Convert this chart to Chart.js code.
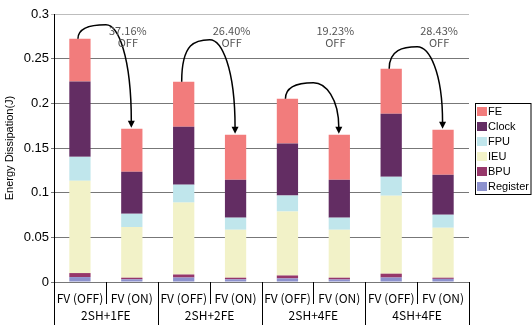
<!DOCTYPE html>
<html><head><meta charset="utf-8">
<script src="https://cdn.jsdelivr.net/npm/chart.js@4/dist/chart.umd.min.js"></script>
<style>html,body{margin:0;padding:0;background:#fff}#wrap{width:532px;height:325px;position:relative}</style>
</head><body><div id="wrap"><canvas id="c"></canvas></div>
<script>
const categories = ['FV (OFF)','FV (ON)','FV (OFF)','FV (ON)','FV (OFF)','FV (ON)','FV (OFF)','FV (ON)'];
const groups = ['2SH+1FE','2SH+2FE','2SH+4FE','4SH+4FE'];
const register = [0.0055, 0.0030, 0.0050, 0.0030, 0.0040, 0.0028, 0.0050, 0.0035];
const bpu      = [0.0045, 0.0018, 0.0034, 0.0018, 0.0033, 0.0020, 0.0043, 0.0013];
const ieu      = [0.1033, 0.0567, 0.0805, 0.0537, 0.0716, 0.0537, 0.0873, 0.0559];
const fpu      = [0.0268, 0.0149, 0.0201, 0.0135, 0.0179, 0.0135, 0.0212, 0.0146];
const clock    = [0.0843, 0.0470, 0.0649, 0.0424, 0.0581, 0.0424, 0.0705, 0.0447];
const fe       = [0.0478, 0.0481, 0.0503, 0.0504, 0.0503, 0.0504, 0.0503, 0.0504];
const savings  = ['37.16%','26.40%','19.23%','28.43%'];
const yTicks   = [0, 0.05, 0.1, 0.15, 0.2, 0.25, 0.3];

const arrowRise = [14, 42, 16, 22];

const decor = {
  id: 'decor',
  afterDraw(chart) {
    const ctx = chart.ctx, xs = chart.scales.x, ca = chart.chartArea;
    ctx.save();
    // separators below axis
    const n = categories.length;
    ctx.strokeStyle = '#000'; ctx.lineWidth = 1;
    for (let i = 0; i <= n; i++) {
      let px;
      if (i === 0) px = xs.left; else if (i === n) px = xs.right;
      else px = (xs.getPixelForValue(i - 1) + xs.getPixelForValue(i)) / 2;
      px = Math.round(px) + 0.5;
      const yEnd = (i % 2 === 0) ? chart.height : ca.bottom + 22;
      ctx.beginPath(); ctx.moveTo(px, ca.bottom); ctx.lineTo(px, yEnd); ctx.stroke();
    }
    // arrows and labels
    const meta = chart.getDatasetMeta(chart.data.datasets.length - 1);
    ctx.lineWidth = 1.5; ctx.strokeStyle = '#000'; ctx.fillStyle = '#000';
    for (let g = 0; g < groups.length; g++) {
      const off = meta.data[2 * g], on = meta.data[2 * g + 1];
      const x0 = off.x - 2, y0 = off.y;
      const xp = off.x + 26, yp = y0 - arrowRise[g];
      const x1 = on.x - 0.5, y1 = on.y - 1;
      ctx.beginPath();
      ctx.moveTo(x0, y0);
      ctx.bezierCurveTo(x0, yp + 3, xp - 14, yp, xp, yp);
      ctx.bezierCurveTo(xp + 12, yp, x1, yp + (y1 - yp) * 0.3, x1, y1 - 6);
      ctx.stroke();
      ctx.beginPath();
      ctx.moveTo(x1, y1); ctx.lineTo(x1 - 3.5, y1 - 7); ctx.lineTo(x1 + 3.5, y1 - 7); ctx.closePath(); ctx.fill();
    }
    ctx.fillStyle = '#555';
    ctx.font = '11px "Noto Sans CJK JP"';
    ctx.textAlign = 'center'; ctx.textBaseline = 'middle';
    for (let g = 0; g < groups.length; g++) {
      const on = meta.data[2 * g + 1];
      ctx.fillText(savings[g], on.x - 4, ca.top + 16.5);
      ctx.fillText('OFF', on.x - 4, ca.top + 29);
    }
    // legend (reverse dataset order), boxed, right of plot
    const ds = chart.data.datasets.slice().reverse();
    const step = 15;
    const mid = (ca.top + ca.bottom) / 2;
    const bh = ds.length * step + 1;
    const bx = ca.right + 6, by = Math.round(mid - bh / 2);
    ctx.strokeStyle = '#000'; ctx.lineWidth = 1;
    ctx.strokeRect(bx + 0.5, by + 0.5, chart.width - bx - 1.5, bh);
    ctx.font = '11px "Liberation Sans"';
    ctx.textAlign = 'left'; ctx.textBaseline = 'middle';
    ds.forEach((d, i) => {
      const cy = by + 8 + i * step;
      ctx.fillStyle = d.backgroundColor;
      ctx.fillRect(bx + 2, cy - 4, 10, 9);
      ctx.fillStyle = '#000';
      ctx.fillText(d.label, bx + 13, cy + 0.5);
    });
    ctx.restore();
  }
};

const mk = (label, data, color) => ({ label, data, backgroundColor: color, borderWidth: 0, xAxisID: 'x', categoryPercentage: 1, barPercentage: 0.41 });

new Chart(document.getElementById('c'), {
  type: 'bar',
  data: {
    labels: categories,
    datasets: [
      mk('Register', register, '#8C91CD'),
      mk('BPU', bpu, '#96376A'),
      mk('IEU', ieu, '#F2F2C8'),
      mk('FPU', fpu, '#C0E6EC'),
      mk('Clock', clock, '#632D63'),
      mk('FE', fe, '#F27C7C')
    ]
  },
  options: {
    responsive: true, maintainAspectRatio: false, animation: false,
    layout: { padding: { top: 14, right: 63, bottom: 0, left: 0 } },
    plugins: {
      tooltip: { enabled: false },
      legend: { display: false }
    },
    scales: {
      x: {
        stacked: true, position: 'bottom',
        grid: { display: false, drawTicks: false },
        border: { display: true, color: '#777' },
        ticks: { padding: 9, color: '#000', font: { family: '"Noto Sans CJK JP"', size: 12 }, maxRotation: 0, autoSkip: false },
        afterFit: s => { s.height = 23; }
      },
      x2: {
        type: 'category', labels: groups, position: 'bottom', offset: true,
        grid: { display: false, drawTicks: false },
        border: { display: false },
        ticks: { padding: 3, color: '#000', font: { family: '"Noto Sans CJK JP"', size: 12 }, maxRotation: 0 },
        afterFit: s => { s.height = 20; }
      },
      y: {
        stacked: true, min: 0, max: 0.3,
        afterBuildTicks: s => { s.ticks = yTicks.map(v => ({ value: v })); },
        afterFit: s => { s.width = 54; },
        ticks: { padding: 2, color: '#000', font: { family: 'Liberation Sans', size: 13 }, callback: v => String(+Number(v).toFixed(2)) },
        grid: { color: c => (c.tick && c.tick.value === 0.3) ? '#bdbdbd' : '#777', tickLength: 3, lineWidth: 1 },
        border: { display: true, color: '#000' },
        title: { display: true, text: 'Energy Dissipation(J)', color: '#000', font: { family: 'Liberation Sans', size: 11 }, padding: { top: 3, bottom: 0 } }
      }
    }
  },
  plugins: [decor]
});
</script>
</body></html>
